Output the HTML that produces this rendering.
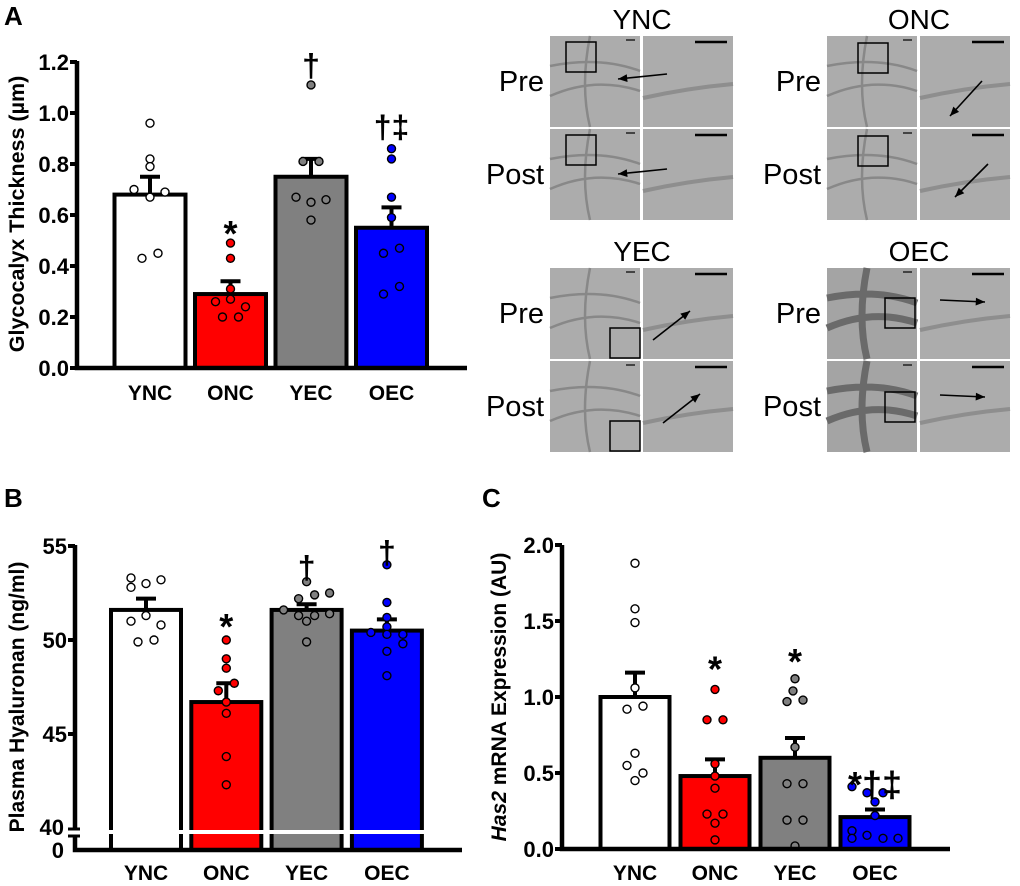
<!DOCTYPE html>
<html><head><meta charset="utf-8"><style>
body{margin:0;background:#fff}
svg{display:block;font-family:"Liberation Sans",Arial,sans-serif}
</style></head><body>
<svg id="fig" width="1020" height="886" viewBox="0 0 1020 886" xmlns="http://www.w3.org/2000/svg">
<g id="gA"></g>
<g id="gB"></g>
<g id="gC"></g>
<g id="gI"></g>
</svg>
<script>
const NS="http://www.w3.org/2000/svg";
const categories=["YNC","ONC","YEC","OEC"];
const fills=["#ffffff","#ff0000","#808080","#0000ff"];
// Panel A data
const aMeans=[0.68,0.29,0.75,0.55];
const aSem=[0.75,0.34,0.82,0.63];
const aPts=[[0.96,0.82,0.79,0.70,0.69,0.67,0.43,0.45],[0.49,0.43,0.31,0.27,0.26,0.24,0.20,0.20],[1.11,0.81,0.81,0.67,0.66,0.65,0.58],[0.86,0.82,0.67,0.59,0.47,0.45,0.32,0.29]];
const aOff=[[0,0,0,-16,15,0,-8,8],[0,0,0,0,-15,15,-8,8],[0,-8,8,-15,15,0,0],[0,0,0,0,8,-8,8,-8]];
const aTicks=["0.0","0.2","0.4","0.6","0.8","1.0","1.2"];
const aSig=["","*","†","†‡"];const aSigV=[0,0.55,1.19,0.95];
// Panel B data
const bMeans=[51.6,46.7,51.6,50.5];
const bSem=[52.2,47.7,51.9,51.1];
const bPts=[[53.3,52.8,53.0,53.2,51.3,51.0,50.8,50.0,49.9],[50.0,49.0,48.5,47.7,47.3,46.7,46.1,43.8,42.3],[53.1,52.5,52.4,52.2,51.6,51.4,51.3,51.3,51.0,49.9],[54.0,52.0,51.2,50.7,50.4,50.3,50.3,49.8,49.4,48.1]];
const bOff=[[-15,-15,0,15,0,-15,15,8,-8],[0,0,0,8,-8,0,0,0,0],[0,23,8,-8,-23,23,-8,8,0,0],[0,0,0,0,-16,16,0,16,0,0]];
const bTicks=["45","50","55"];
const bSig=["","*","†","†"];const bSigV=[0,51.0,53.9,54.7];
// Panel C data
const cMeans=[1.0,0.48,0.60,0.21];
const cSem=[1.16,0.59,0.73,0.26];
const cPts=[[1.88,1.58,1.49,1.06,0.94,0.92,0.63,0.55,0.50,0.45],[1.05,0.85,0.85,0.56,0.48,0.40,0.23,0.23,0.17,0.06],[1.12,1.04,0.97,0.98,0.67,0.43,0.43,0.19,0.19,0.02],[0.41,0.37,0.37,0.31,0.22,0.12,0.07,0.09,0.07,0.07]];
const cOff=[[0,0,0,0,8,-8,0,-8,8,0],[0,-8,8,0,0,0,-8,8,0,0],[0,-2,-8,8,0,-8,8,-8,8,0],[-23,-8,8,0,0,-23,-23,-8,8,23]];
const cTicks=["0.0","0.5","1.0","1.5","2.0"];
const cSig=["","*","*","*†‡"];const cSigV=[0,1.22,1.27,0.46];

function el(p,t,a,txt){const e=document.createElementNS(NS,t);for(const k in a)e.setAttribute(k,a[k]);if(txt!==undefined)e.textContent=txt;p.appendChild(e);return e;}

function chart(g,cfg){
  const y=cfg.y;
  categories.forEach((c,i)=>{
    const cx=cfg.x0+i*cfg.step;
    const top=y(cfg.means[i]);
    const r=el(g,"rect",{x:cx-cfg.bw/2,y:top,width:cfg.bw,height:cfg.base-top,fill:fills[i],stroke:"#000","stroke-width":4});
    
    
    const e=el(g,"path",{d:`M${cx} ${top}V${y(cfg.sem[i])}M${cx-10} ${y(cfg.sem[i])}H${cx+10}`,stroke:"#000","stroke-width":4,fill:"none"});
    
    
    cfg.pts[i].forEach((v,j)=>{
      const p=el(g,"circle",{cx:cx+cfg.off[i][j],cy:y(v),r:4,fill:fills[i],stroke:"#000","stroke-width":1.4});
      
      
    });
    if(cfg.sig[i]){
      const st=cfg.sig[i].startsWith("*");
      const s=el(g,"text",{x:cx,y:y(cfg.sigV[i])+(st?18:12),"text-anchor":"middle","font-size":st?36:32,"font-weight":"bold"},cfg.sig[i]);
      
      
    }
    const l=el(g,"text",{x:cx,y:cfg.labY,"text-anchor":"middle","font-size":21,"font-weight":"bold"},c);
    
    
  });
  const ax=el(g,"path",{d:`M${cfg.ax} ${cfg.axTop}V${cfg.base}H${cfg.axEnd}`,stroke:"#000","stroke-width":4.5,fill:"none"});
  
  
  cfg.ticks.forEach(t=>{
    const ty=y(parseFloat(t));
    el(g,"line",{x1:cfg.ax-7,x2:cfg.ax,y1:ty,y2:ty,stroke:"#000","stroke-width":4});
    const tl=el(g,"text",{x:cfg.ax-8,y:ty+8,"text-anchor":"end","font-size":22,"font-weight":"bold"},t);
    
    
  });
}

// Panel A
const gA=document.getElementById("gA");
el(gA,"text",{x:4,y:25,"font-size":26,"font-weight":"bold"},"A");
chart(gA,{y:v=>368-v*255,x0:150,step:80.5,bw:71,means:aMeans,sem:aSem,pts:aPts,off:aOff,sig:aSig,sigV:aSigV,ticks:aTicks,base:368,ax:77,axTop:61,axEnd:467,labY:400});
el(gA,"text",{x:0,y:0,transform:"translate(24,214) rotate(-90)","text-anchor":"middle","font-size":21.5,"font-weight":"bold"},"Glycocalyx Thickness (µm)");

// Panel B
const gB=document.getElementById("gB");
el(gB,"text",{x:4,y:507,"font-size":26,"font-weight":"bold"},"B");
const yB=v=>640-(v-50)*18.8;
chart(gB,{y:yB,x0:146,step:80.3,bw:70,means:bMeans,sem:bSem,pts:bPts,off:bOff,sig:bSig,sigV:bSigV,ticks:bTicks,base:850,ax:75,axTop:545,axEnd:462,labY:880});
el(gB,"rect",{x:105,y:830,width:322,height:4,fill:"#fff"});
el(gB,"rect",{x:70,y:829,width:12,height:8,fill:"#fff"});
el(gB,"line",{x1:68,x2:80,y1:829,y2:829,stroke:"#000","stroke-width":3});
el(gB,"line",{x1:68,x2:80,y1:836,y2:836,stroke:"#000","stroke-width":3});
el(gB,"text",{x:64,y:835,"text-anchor":"end","font-size":22,"font-weight":"bold"},"40");
el(gB,"text",{x:64,y:858,"text-anchor":"end","font-size":22,"font-weight":"bold"},"0");
el(gB,"text",{x:0,y:0,transform:"translate(24,697) rotate(-90)","text-anchor":"middle","font-size":21,"font-weight":"bold"},"Plasma Hyaluronan (ng/ml)");

// Panel C
const gC=document.getElementById("gC");
el(gC,"text",{x:482,y:507,"font-size":26,"font-weight":"bold"},"C");
chart(gC,{y:v=>849-v*152,x0:635,step:80,bw:69,means:cMeans,sem:cSem,pts:cPts,off:cOff,sig:cSig,sigV:cSigV,ticks:cTicks,base:849,ax:562,axTop:545,axEnd:950,labY:880});
const tc=el(gC,"text",{x:0,y:0,transform:"translate(506,697) rotate(-90)","text-anchor":"middle","font-size":21,"font-weight":"bold"});

el(tc,"tspan",{"font-style":"italic"},"Has2");
el(tc,"tspan",{},"\u00a0mRNA Expression (AU)");

// Micrographs
const gI=document.getElementById("gI");
const groups=[
 {n:"YNC",lx:550,ty:36,box:[[566,42],[566,135]],dark:false,arrow:[[667,74,618,79],[667,169,618,174]]},
 {n:"ONC",lx:827,ty:36,box:[[858,43],[858,136]],dark:false,arrow:[[982,81,950,116],[988,164,955,197]]},
 {n:"YEC",lx:550,ty:268,box:[[610,328],[610,421]],dark:false,arrow:[[653,340,690,311],[663,423,700,394]]},
 {n:"OEC",lx:827,ty:268,box:[[885,298],[885,392]],dark:true,arrow:[[940,300,985,302],[940,395,985,397]]}
];
groups.forEach(gr=>{
  const w=90,h=91;
  const t=el(gI,"text",{x:gr.lx+92,y:gr.ty-7,"text-anchor":"middle","font-size":28},gr.n);
  
  ["Pre","Post"].forEach((lab,r)=>{
    const y0=gr.ty+r*93;
    const lt=el(gI,"text",{x:gr.lx-6,y:y0+55,"text-anchor":"end","font-size":29},lab);
    
    [0,1].forEach(cI=>{
      const x0=gr.lx+cI*93;
      el(gI,"rect",{x:x0,y:y0,width:w,height:h,fill:gr.dark&&cI==0?"#a4a4a4":"#acacac"});
      if(cI==0){
        el(gI,"path",{d:`M${x0} ${y0+60}Q${x0+45} ${y0+40} ${x0+90} ${y0+55}M${x0+40} ${y0} Q${x0+30} ${y0+50} ${x0+40} ${y0+91}M${x0} ${y0+30}Q${x0+50} ${y0+20} ${x0+90} ${y0+35}`,stroke:gr.dark?"#6a6a6a":"#888",fill:"none","stroke-width":gr.dark?7:2.5});
        el(gI,"line",{x1:x0+76,x2:x0+85,y1:y0+4,y2:y0+4,stroke:"#222","stroke-width":1.5});
      } else {
        el(gI,"path",{d:`M${x0} ${y0+62}Q${x0+45} ${y0+52} ${x0+90} ${y0+48}`,stroke:"#8e8e8e",fill:"none","stroke-width":4});
        el(gI,"line",{x1:x0+52,x2:x0+84,y1:y0+6,y2:y0+6,stroke:"#000","stroke-width":2.5});
      }
    });
    const bx=gr.box[r];
    el(gI,"rect",{x:bx[0],y:bx[1],width:30,height:30,fill:"none",stroke:"#000","stroke-width":1.5});
    const a=gr.arrow[r];
    el(gI,"line",{x1:a[0],y1:a[1],x2:a[2],y2:a[3],stroke:"#000","stroke-width":1.6});
    const ang=Math.atan2(a[3]-a[1],a[2]-a[0]);
    const p=(s)=>[a[2]-10*Math.cos(ang+s),a[3]-10*Math.sin(ang+s)];
    const p1=p(0.4),p2=p(-0.4);
    el(gI,"polygon",{points:`${a[2]},${a[3]} ${p1[0]},${p1[1]} ${p2[0]},${p2[1]}`,fill:"#000"});
  });
});
</script>
</body></html>
